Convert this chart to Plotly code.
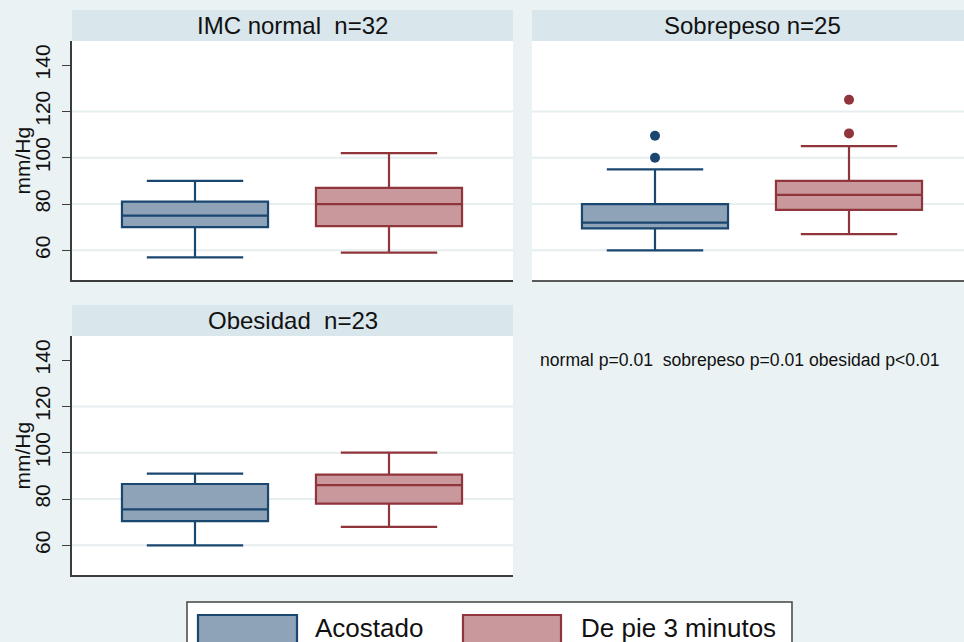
import plotly.graph_objects as go

# ---- data -------------------------------------------------------------
groups = ["Acostado", "De pie 3 minutos"]
panel_titles = ["IMC normal\u00a0 n=32", "Sobrepeso n=25", "Obesidad\u00a0 n=23"]

# box summaries per panel, [Acostado, De pie 3 minutos]
lower_whisker = [[57, 59], [60, 67], [60, 68]]
q1_vals = [[70, 70.5], [69.5, 77.5], [70.5, 78]]
median_vals = [[75, 80], [72, 84], [75.5, 86]]
q3_vals = [[81, 87], [80, 90], [86.5, 90.5]]
upper_whisker = [[90, 102], [95, 105], [91, 100]]
outlier_vals = [[[], []], [[100, 109.5], [110.5, 125]], [[], []]]

y_ticks = [60, 80, 100, 120, 140]
grid_vals = [60, 80, 100, 120]
note_text = "normal p=0.01\u00a0 sobrepeso p=0.01 obesidad p<0.01"

# ---- style ------------------------------------------------------------
W, H = 964, 642
FONT = "Arial, Liberation Sans, sans-serif"
BG = "#eaf2f3"
STRIP = "#d9e6eb"
GRID = "#e6eef0"
AXIS = "#3c3c3c"
line_colors = ["#1a476f", "#90353b"]
fill_colors = ["#8ea3b8", "#c8989c"]


def px(x):
    return x / W


def py(y):
    return 1 - y / H


# panel geometry in pixels: (left, right, top, bottom, strip_top)
panels = [
    (72, 513, 41, 280, 10),
    (532, 964, 41, 280, 10),
    (72, 513, 336, 575, 305),
]
title_centers = [292.5, 752.5, 292.5]
unit = 194.0           # pixels per category step
first_center = 123.0   # pixels from panel left to first category

fig = go.Figure()
shapes = []
annotations = []

for i, (l, r, t, b, st) in enumerate(panels):
    k = "" if i == 0 else str(i + 1)
    xa, ya = "x" + k, "y" + k
    for j, g in enumerate(groups):
        fig.add_trace(go.Box(
            x=[g],
            q1=[q1_vals[i][j]], median=[median_vals[i][j]], q3=[q3_vals[i][j]],
            lowerfence=[lower_whisker[i][j]], upperfence=[upper_whisker[i][j]],
            fillcolor=fill_colors[j],
            line=dict(color=line_colors[j], width=2.2),
            width=0.753, whiskerwidth=0.66,
            boxpoints=False, showlegend=False, hoverinfo="skip",
            xaxis=xa, yaxis=ya,
        ))
        if outlier_vals[i][j]:
            fig.add_trace(go.Scatter(
                x=[g] * len(outlier_vals[i][j]), y=outlier_vals[i][j],
                mode="markers",
                marker=dict(color=line_colors[j], size=10, line=dict(width=0)),
                showlegend=False, hoverinfo="skip", xaxis=xa, yaxis=ya,
            ))

    x0 = -first_center / unit
    x1 = x0 + (r - l) / unit
    left_panel = i != 1
    fig.layout["xaxis" + k] = dict(
        domain=[px(l), px(r)], anchor=ya, range=[x0, x1],
        type="category", categoryorder="array", categoryarray=groups,
        showticklabels=False, ticks="", showgrid=False, zeroline=False,
        showline=True, linecolor=AXIS if left_panel else "#5a5a5a",
        linewidth=1.6, fixedrange=True,
    )
    fig.layout["yaxis" + k] = dict(
        domain=[py(b), py(t)], anchor=xa, range=[47.2, 150.4],
        tickvals=y_ticks, showgrid=False, zeroline=False,
        showticklabels=left_panel, tickangle=-90,
        tickfont=dict(size=21, color="#111111", family=FONT),
        ticks="outside" if left_panel else "", ticklen=8, tickwidth=1.4,
        tickcolor=AXIS, showline=left_panel, linecolor=AXIS, linewidth=1.6,
        ticklabelstandoff=4, fixedrange=True,
    )

    for v in grid_vals:
        shapes.append(dict(type="line", xref=xa + " domain", yref=ya,
                           x0=0, x1=1, y0=v, y1=v, layer="below",
                           line=dict(color=GRID, width=2)))

    # strip header
    shapes.append(dict(type="rect", xref="paper", yref="paper",
                       x0=px(l), x1=px(r), y0=py(t), y1=py(st),
                       fillcolor=STRIP, line=dict(width=0)))
    annotations.append(dict(text=panel_titles[i], xref="paper", yref="paper",
                            x=px(title_centers[i]),
                            y=py((t + st) / 2), showarrow=False,
                            xanchor="center", yanchor="middle",
                            font=dict(size=24, color="#111111", family=FONT)))
    if left_panel:
        annotations.append(dict(text="mm/Hg", xref="paper", yref="paper",
                                x=px(22), y=py((t + b) / 2), textangle=-90,
                                showarrow=False, xanchor="center", yanchor="middle",
                                font=dict(size=21, color="#111111", family=FONT)))

annotations.append(dict(text=note_text, xref="paper", yref="paper",
                        x=px(538), y=py(360), showarrow=False,
                        xanchor="left", yanchor="middle",
                        font=dict(size=17.6, color="#111111", family=FONT)))

# legend
shapes.append(dict(type="rect", xref="paper", yref="paper",
                   x0=px(187), x1=px(792), y0=py(665), y1=py(602),
                   fillcolor="white", line=dict(color="#444444", width=1.5)))
legend_items = [(198, 297, 313), (463, 561, 579)]
for j, (s0, s1, tx) in enumerate(legend_items):
    shapes.append(dict(type="rect", xref="paper", yref="paper",
                       x0=px(s0), x1=px(s1), y0=py(644), y1=py(615),
                       fillcolor=fill_colors[j],
                       line=dict(color=line_colors[j], width=2.2)))
    annotations.append(dict(text=groups[j], xref="paper", yref="paper",
                            x=px(tx), y=py(628), showarrow=False,
                            xanchor="left", yanchor="middle",
                            font=dict(size=26, color="#111111", family=FONT)))

fig.update_layout(
    width=W, height=H, margin=dict(l=0, r=0, t=0, b=0),
    paper_bgcolor=BG, plot_bgcolor="white",
    shapes=shapes, annotations=annotations,
    font=dict(family=FONT), boxmode="overlay",
)

fig.write_html("out.html")
